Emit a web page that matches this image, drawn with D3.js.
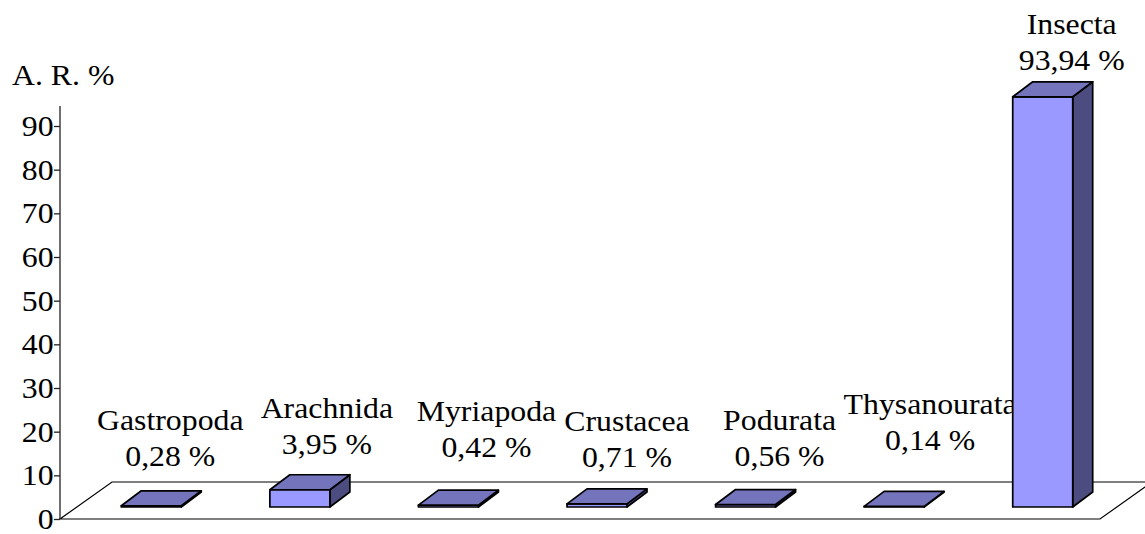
<!DOCTYPE html>
<html>
<head>
<meta charset="utf-8">
<script src="https://cdn.jsdelivr.net/npm/d3@7"></script>
<style>
  html, body { margin: 0; padding: 0; background: #fff; }
  svg { display: block; }
  text { font-family: "Liberation Serif", "Times New Roman", serif; fill: #000; }
</style>
</head>
<body>
<svg id="chart" width="1145" height="534"></svg>
<script>
// Relative abundance (A. R. %) of the captured invertebrate classes
const categories = ["Gastropoda", "Arachnida", "Myriapoda", "Crustacea", "Podurata", "Thysanourata", "Insecta"];
const values = [0.28, 3.95, 0.42, 0.71, 0.56, 0.14, 93.94];
const yTicks = [0, 10, 20, 30, 40, 50, 60, 70, 80, 90];
const axisTitle = "A. R. %";

// Label placement: [horizontal shift from the category centre, baseline of the name line]
const labelPlacement = [[36, 430], [44, 418], [55, 421], [47, 431], [51, 430], [53, 414], [46, 34]];

const svg = d3.select("#chart");

const x = d3.scaleBand().domain(categories).range([60, 1100]).padding(0);
const y = d3.scaleLinear().domain([0, 90]).range([519, 126]);
const axisTop = 94.6;

// 3-D geometry
const floorDepth = [52, -37];
const barFront = [17, -12];
const barDepth = [20, -15];
const barWidth = 60;
const stretch = 1.06;      // slightly widened type
const fontSize = 30;
const lineGap = 36;

const colFront = "#9999ff", colTop = "#7474bd", colSide = "#4c4c80";

// Floor
const fx0 = x.range()[0], fx1 = x.range()[1], fy = y(0);
svg.append("polygon")
  .attr("points", [[fx0, fy], [fx1, fy], [fx1 + floorDepth[0], fy + floorDepth[1]], [fx0 + floorDepth[0], fy + floorDepth[1]]].map(p => p.join(",")).join(" "))
  .attr("fill", "#fff").attr("stroke", "#000").attr("stroke-width", 1.2);

// Value axis
const axisG = svg.append("g").attr("transform", `translate(${fx0},0)`);
axisG.call(d3.axisLeft(y).tickValues(yTicks).tickSize(6).tickSizeOuter(0).tickPadding(0).tickFormat(d3.format("d")));
axisG.select(".domain").remove();
axisG.append("line")
  .attr("x1", 0).attr("x2", 0).attr("y1", y(0)).attr("y2", y(axisTop))
  .attr("stroke", "#222").attr("stroke-width", 1.3);
axisG.selectAll(".tick line").attr("stroke", "#222").attr("stroke-width", 1.3);
axisG.selectAll(".tick text")
  .attr("font-family", "Liberation Serif, Times New Roman, serif")
  .attr("font-size", fontSize)
  .attr("fill", "#000")
  .attr("dy", "0.32em")
  .attr("transform", `scale(${stretch},1)`);

svg.append("text")
  .attr("transform", `translate(12,85) scale(${stretch},1)`)
  .attr("font-size", fontSize)
  .text(axisTitle);

// Data labels (category name and value)
const fmt = v => d3.format(".2f")(v).replace(".", ",") + " %";
const labels = svg.append("g");
categories.forEach((c, i) => {
  const cx = x(c) + x.bandwidth() / 2 + labelPlacement[i][0];
  const by = labelPlacement[i][1];
  const t = labels.append("g").attr("transform", `translate(${cx},0)`);
  t.append("text")
    .attr("transform", `translate(0,${by}) scale(${stretch},1)`)
    .attr("text-anchor", "middle").attr("font-size", fontSize)
    .text(c);
  t.append("text")
    .attr("transform", `translate(0,${by + lineGap}) scale(${stretch},1)`)
    .attr("text-anchor", "middle").attr("font-size", fontSize)
    .text(fmt(values[i]));
});

// Columns
const bars = svg.append("g")
  .attr("stroke", "#000").attr("stroke-width", 1.7).attr("stroke-linejoin", "round");
categories.forEach((c, i) => {
  const x0 = x(c) + x.bandwidth() / 2 + barFront[0] - barWidth / 2;
  const x1 = x0 + barWidth;
  const base = y(0) + barFront[1];
  const top = y(values[i]) + barFront[1];
  const [dx, dy] = barDepth;
  const g = bars.append("g");
  const poly = pts => pts.map(p => p.join(",")).join(" ");
  g.append("polygon").attr("fill", colSide)
    .attr("points", poly([[x1, top], [x1 + dx, top + dy], [x1 + dx, base + dy], [x1, base]]));
  g.append("polygon").attr("fill", colFront)
    .attr("points", poly([[x0, top], [x1, top], [x1, base], [x0, base]]));
  g.append("polygon").attr("fill", colTop)
    .attr("points", poly([[x0, top], [x1, top], [x1 + dx, top + dy], [x0 + dx, top + dy]]));
});
</script>
</body>
</html>
